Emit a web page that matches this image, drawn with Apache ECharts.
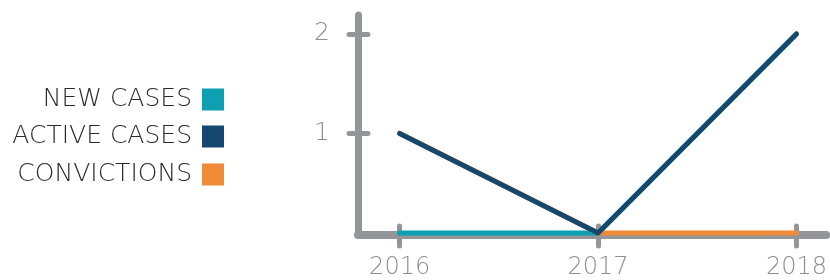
<!DOCTYPE html>
<html>
  <head>
    <meta charset="UTF-8" />
    <script src="https://cdn.jsdelivr.net/npm/echarts@6/dist/echarts.min.js"></script>
    <style>
      html, body { margin: 0; padding: 0; background: #fff; }
    </style>
  </head>
  <body>
    <div id="main"></div>
    <script>
      const width = 830;
      const height = 280;
      const main = document.getElementById('main');
      main.style.width = `${width}px`;
      main.style.height = `${height}px`;

      const years = [2016, 2017, 2018];
      const newCases = [0, 0, 2];
      const activeCases = [1, 0, 2];
      const convictions = [1, 0, 0];
      const yTicks = [1, 2];

      const FONT = '"DejaVu Sans", sans-serif';
      const axisGrey = '#939598';
      const labelGrey = '#8d8e90';

      const pairs = (vals) => years.map((y, i) => [y, vals[i]]);

      const lineSeries = (name, color, vals, z) => ({
        name,
        type: 'line',
        data: pairs(vals),
        symbol: 'none',
        z,
        itemStyle: { color },
        lineStyle: { color, width: 5, cap: 'round', join: 'round' },
      });

      const legendItem = (name, top) => ({
        data: [{ name, icon: 'rect' }],
        orient: 'horizontal',
        align: 'right',
        right: 606,
        top,
        padding: 0,
        itemWidth: 22,
        itemHeight: 22,
        itemGap: 0,
        selectedMode: false,
        textStyle: {
          fontFamily: FONT,
          fontWeight: 200,
          fontSize: 25,
          color: '#2a2a2a',
          padding: [0, 5, 0, 0],
        },
      });

      const myChart = echarts.init(main);
      const option = {
        animation: false,
        backgroundColor: '#fff',
        legend: [
          legendItem('NEW CASES', 87),
          legendItem('ACTIVE CASES', 124),
          legendItem('CONVICTIONS', 162),
        ],
        grid: { left: 358, right: 0, top: 15, bottom: 44, containLabel: false },
        xAxis: [
          {
            type: 'value',
            min: 2015.79,
            max: 2018.15,
            splitLine: { show: false },
            axisLine: { show: true, onZero: false, lineStyle: { color: axisGrey, width: 8 } },
            axisTick: {
              show: true,
              customValues: years,
              length: 11,
              lineStyle: { color: axisGrey, width: 5, cap: 'round' },
            },
            axisLabel: {
              customValues: years,
              margin: 21,
              color: labelGrey,
              fontFamily: FONT,
              fontWeight: 200,
              fontSize: 24,
              formatter: (v) => String(v),
            },
          },
          {
            type: 'value',
            position: 'bottom',
            min: 2015.79,
            max: 2018.15,
            splitLine: { show: false },
            axisLine: { show: false },
            axisLabel: { show: false },
            axisTick: {
              show: true,
              inside: true,
              customValues: years,
              length: 7,
              lineStyle: { color: axisGrey, width: 5, cap: 'round' },
            },
          },
        ],
        yAxis: [
          {
            type: 'value',
            min: -0.02,
            max: 2.19,
            splitLine: { show: false },
            axisLine: { show: true, onZero: false, lineStyle: { color: axisGrey, width: 7 } },
            axisTick: {
              show: true,
              customValues: yTicks,
              length: 9,
              lineStyle: { color: axisGrey, width: 5, cap: 'round' },
            },
            axisLabel: {
              customValues: yTicks,
              margin: 28,
              color: labelGrey,
              fontFamily: FONT,
              fontWeight: 200,
              fontSize: 25,
            },
          },
          {
            type: 'value',
            position: 'left',
            min: -0.02,
            max: 2.19,
            splitLine: { show: false },
            axisLine: { show: false },
            axisLabel: { show: false },
            axisTick: {
              show: true,
              inside: true,
              customValues: yTicks,
              length: 10,
              lineStyle: { color: axisGrey, width: 5, cap: 'round' },
            },
          },
        ],
        series: [
          lineSeries('NEW CASES', '#0d9fb2', newCases, 2),
          lineSeries('CONVICTIONS', '#ef8b36', convictions, 3),
          lineSeries('ACTIVE CASES', '#15486f', activeCases, 4),
        ],
      };
      myChart.setOption(option);
    </script>
  </body>
</html>
